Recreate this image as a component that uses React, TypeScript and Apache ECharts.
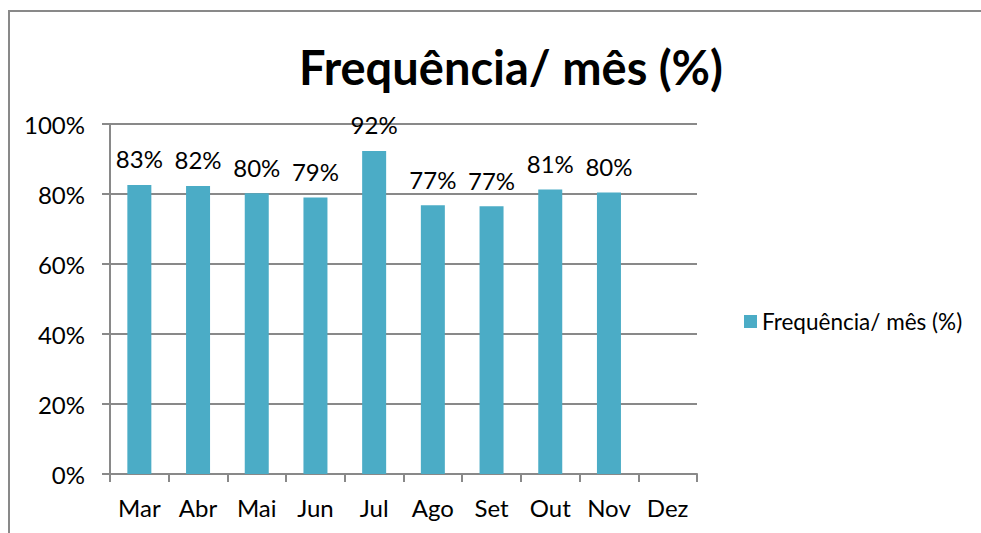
import React, { useEffect, useRef } from "react";
import * as echarts from "echarts";

const months = ["Mar", "Abr", "Mai", "Jun", "Jul", "Ago", "Set", "Out", "Nov", "Dez"];
const frequency: (number | null)[] = [0.826, 0.823, 0.802, 0.79, 0.923, 0.768, 0.765, 0.813, 0.804, null];
const seriesName = "Frequência/ mês (%)";
const chartTitle = "Frequência/ mês (%)";

const FONT = "Lato, 'Open Sans', sans-serif";
const GRAY = "#898989";
const BAR = "#4BACC6";

export default function App() {
  const ref = useRef<HTMLDivElement>(null);
  useEffect(() => {
    if (!ref.current) return;
    const chart = echarts.init(ref.current, null, { renderer: "svg" });
    chart.setOption({
      animation: false,
      textStyle: { fontFamily: FONT },
      title: {
        text: chartTitle,
        left: 506,
        top: 38,
        textAlign: "center",
        textStyle: { fontFamily: FONT, fontSize: 47, fontWeight: "bold", color: "#000" },
      },
      graphic: [
        {
          type: "line",
          shape: { x1: 9, y1: 11, x2: 9, y2: 600 },
          style: { stroke: GRAY, lineWidth: 2 },
          silent: true,
        },
        {
          type: "line",
          shape: { x1: 8, y1: 11, x2: 981, y2: 11 },
          style: { stroke: GRAY, lineWidth: 2 },
          silent: true,
        },
      ],
      legend: {
        left: 739,
        top: 305,
        icon: "rect",
        itemWidth: 13,
        itemHeight: 13,
        textStyle: { fontFamily: FONT, fontSize: 22.5, color: "#000" },
        data: [seriesName],
      },
      grid: { left: 110, top: 124, width: 587, height: 350, containLabel: false },
      xAxis: {
        type: "category",
        data: months,
        boundaryGap: true,
        axisLine: { lineStyle: { color: GRAY, width: 2 } },
        axisTick: { show: true, length: 8, lineStyle: { color: GRAY, width: 2 } },
        axisLabel: { color: "#000", fontFamily: FONT, fontSize: 24, margin: 21, interval: 0 },
      },
      yAxis: {
        type: "value",
        min: 0,
        max: 1,
        interval: 0.2,
        axisLine: { show: true, lineStyle: { color: GRAY, width: 2 } },
        axisTick: { show: true, length: 8, lineStyle: { color: GRAY, width: 2 } },
        splitLine: { show: true, lineStyle: { color: GRAY, width: 2 } },
        axisLabel: {
          color: "#000",
          fontFamily: FONT,
          fontSize: 24,
          margin: 25,
          formatter: (v: number) => Math.round(v * 100) + "%",
        },
      },
      series: [
        {
          name: seriesName,
          type: "bar",
          data: frequency,
          barWidth: 24,
          itemStyle: { color: BAR },
          label: {
            show: true,
            position: "top",
            distance: 14,
            color: "#000",
            fontFamily: FONT,
            fontSize: 24,
            formatter: (p: any) => Math.round(p.value * 100) + "%",
          },
        },
      ],
    });
    return () => chart.dispose();
  }, []);
  return (
    <div style={{ position: "fixed", left: 0, top: 0, width: 981, height: 533, background: "#ffffff" }}>
      <div ref={ref} style={{ width: 981, height: 533 }} />
    </div>
  );
}
